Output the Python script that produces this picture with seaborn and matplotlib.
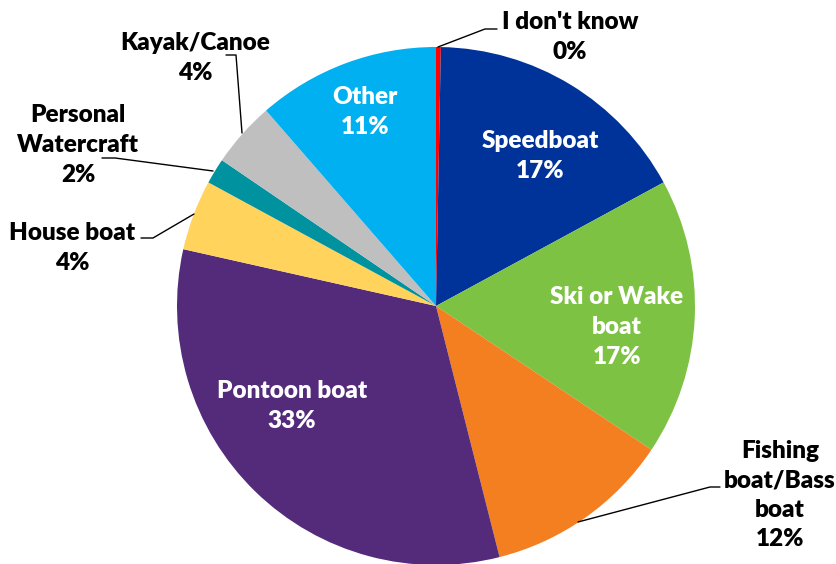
import numpy as np
import matplotlib
matplotlib.use("Agg")
import matplotlib.pyplot as plt
import seaborn as sns

# values (start at top, clockwise)
labels = ["I don't know", "Speedboat", "Ski or Wake\nboat", "Fishing\nboat/Bass\nboat",
          "Pontoon boat", "House boat", "Personal\nWatercraft", "Kayak/Canoe", "Other"]
shares = [0.3, 16.8, 17.3, 11.7, 32.5, 4.4, 1.6, 4.1, 11.4]
pct_text = ["0%", "17%", "17%", "12%", "33%", "4%", "2%", "4%", "11%"]
colors = ["#FF0000", "#003399", "#7DC242", "#F47F20", "#532B7A",
          "#FFD35C", "#00929F", "#BFBFBF", "#00B0F0"]

# label layout in pixels (center of text block), inside flag, leader path
W, H = 837, 564
CX, CY, R = 436, 306, 259
label_pos = [(570, 37), (540, 156), (617, 327), (780, 495), (292, 406),
             (72, 248), (78, 145), (195, 58), (365, 112)]
inside = [False, True, True, False, True, False, False, False, True]
leaders = {
    0: [(438, 47), (485, 29), (497, 29)],
    3: [(578, 522), (710, 487), (720, 487)],
    5: [(194, 214), (153, 238), (141, 238)],
    6: [(213, 171), (115, 158), (102, 158)],
    7: [(242, 133), (236, 55), (226, 55)],
}


def px(x, y):
    return (x - CX) / R, (CY - y) / R


sns.set_theme(style="white")
plt.rcParams["font.family"] = ["Lato", "DejaVu Sans"]

fig = plt.figure(figsize=(W / 100, H / 100), dpi=100)
ax = fig.add_axes([0, 0, 1, 1])
ax.pie(shares, colors=sns.color_palette(colors), startangle=90, counterclock=False,
       radius=1, wedgeprops=dict(linewidth=0))
ax.set_xlim(-CX / R, (W - CX) / R)
ax.set_ylim(-(H - CY) / R, CY / R)
ax.set_aspect("auto")
ax.axis("off")

for i, lab in enumerate(labels):
    x, y = px(*label_pos[i])
    ax.text(x, y, f"{lab}\n{pct_text[i]}", ha="center", va="center",
            fontsize=17.5, fontweight="heavy", linespacing=1.42,
            color="white" if inside[i] else "black")

for i, pts in leaders.items():
    xs, ys = zip(*[px(*p) for p in pts])
    ax.plot(xs, ys, color="black", linewidth=1)

fig.savefig("out.png", dpi=100, facecolor="white")
